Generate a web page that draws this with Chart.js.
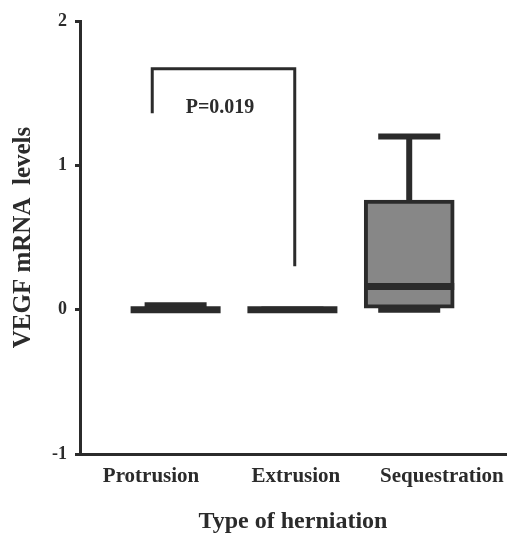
<!DOCTYPE html>
<html>
<head>
<meta charset="utf-8">
<script src="https://cdn.jsdelivr.net/npm/chart.js@4"></script>
<style>
  html, body { margin: 0; padding: 0; background: #fff; }
  #wrap { width: 507px; height: 536px; }
</style>
</head>
<body>
<div id="wrap"><canvas id="chart"></canvas></div>
<script>
// box plot values
const categories = ['Protrusion', 'Extrusion', 'Sequestration'];
const mins = [0, 0, 0];
const q1s = [0, 0, 0];
const medians = [0, 0, 0.16];
const q3s = [0, 0, 0.76];
const maxs = [0.03, 0, 1.2];
const yTicks = [-1, 0, 1, 2];
// where the category names sit under the axis (they are not centred on the boxes)
const labelPositions = [0.79, 2.03, 3.28];

// significance bracket between protrusion and extrusion
const bracketX = [0.8, 2.02];
const bracketTop = 1.67;
const bracketEnds = [1.36, 0.30];
const pLabel = 'P=0.019';
const pLabelPos = [1.38, 1.40];

const ink = '#2b2b2b';
const serif = "'Liberation Serif', 'Times New Roman', serif";

// whiskers, caps, medians and the p-value bracket
const boxExtras = {
    id: 'boxExtras',
    afterDatasetsDraw(chart) {
        const { ctx, scales: { x, y } } = chart;
        ctx.save();
        ctx.strokeStyle = ink;
        ctx.lineCap = 'butt';
        categories.forEach((c, i) => {
            const cx = x.getPixelForValue(i + 1);
            const capHalf = 31;
            // upper whisker
            ctx.lineWidth = 6;
            ctx.beginPath();
            ctx.moveTo(cx, y.getPixelForValue(q3s[i]));
            ctx.lineTo(cx, y.getPixelForValue(maxs[i]));
            ctx.stroke();
            // caps
            [mins[i], maxs[i]].forEach(v => {
                ctx.beginPath();
                ctx.moveTo(cx - capHalf, y.getPixelForValue(v));
                ctx.lineTo(cx + capHalf, y.getPixelForValue(v));
                ctx.stroke();
            });
            // median
            ctx.lineWidth = 7;
            ctx.beginPath();
            ctx.moveTo(cx - 45, y.getPixelForValue(medians[i]));
            ctx.lineTo(cx + 45, y.getPixelForValue(medians[i]));
            ctx.stroke();
        });

        // bracket
        ctx.lineWidth = 3;
        ctx.beginPath();
        ctx.moveTo(x.getPixelForValue(bracketX[0]), y.getPixelForValue(bracketEnds[0]));
        ctx.lineTo(x.getPixelForValue(bracketX[0]), y.getPixelForValue(bracketTop));
        ctx.lineTo(x.getPixelForValue(bracketX[1]), y.getPixelForValue(bracketTop));
        ctx.lineTo(x.getPixelForValue(bracketX[1]), y.getPixelForValue(bracketEnds[1]));
        ctx.stroke();

        ctx.fillStyle = ink;
        ctx.font = 'bold 20px ' + serif;
        ctx.textAlign = 'center';
        ctx.textBaseline = 'middle';
        ctx.fillText(pLabel, x.getPixelForValue(pLabelPos[0]), y.getPixelForValue(pLabelPos[1]));
        ctx.restore();
    }
};

new Chart(document.getElementById('chart'), {
    type: 'bar',
    data: {
        datasets: [{
            data: categories.map((c, i) => ({ x: i + 1, y: [q1s[i], q3s[i]] })),
            backgroundColor: '#878787',
            borderColor: ink,
            borderWidth: 4,
            borderSkipped: false,
            barThickness: 90
        }]
    },
    options: {
        responsive: true,
        maintainAspectRatio: false,
        animation: false,
        layout: { padding: { top: 21, right: 2, left: 0, bottom: 0 } },
        plugins: {
            legend: { display: false },
            tooltip: { enabled: false }
        },
        scales: {
            x: {
                type: 'linear',
                min: 0.19,
                max: 3.82,
                offset: false,
                afterBuildTicks: axis => { axis.ticks = categories.map((c, i) => ({ value: i + 1 })); },
                grid: { display: true, offset: false, drawOnChartArea: false, drawTicks: true, tickLength: 2, lineWidth: 3, color: ink },
                border: { display: true, width: 3, color: ink },
                ticks: { display: false }
            },
            x2: {
                type: 'linear',
                position: 'bottom',
                weight: 1,
                min: 0.19,
                max: 3.82,
                offset: false,
                afterBuildTicks: axis => { axis.ticks = labelPositions.map(v => ({ value: v })); },
                grid: { display: false },
                border: { display: false },
                ticks: {
                    padding: 0,
                    color: ink,
                    font: { family: serif, size: 21, weight: 'bold' },
                    maxRotation: 0,
                    autoSkip: false,
                    callback: (v, idx) => categories[idx]
                },
                title: {
                    display: true,
                    text: 'Type of herniation',
                    color: ink,
                    font: { family: serif, size: 24, weight: 'bold' },
                    padding: { top: 18, bottom: 0 }
                }
            },
            y: {
                min: -1,
                max: 2,
                afterBuildTicks: axis => { axis.ticks = yTicks.map(v => ({ value: v })); },
                grid: { display: true, drawOnChartArea: false, drawTicks: true, tickLength: 6, lineWidth: 3, color: ink },
                border: { display: true, width: 3, color: ink },
                ticks: {
                    padding: 8,
                    color: ink,
                    font: { family: serif, size: 18, weight: 'bold' }
                },
                title: {
                    display: true,
                    text: 'VEGF mRNA  levels',
                    color: ink,
                    font: { family: serif, size: 25, weight: 'bold' },
                    padding: { top: 9, bottom: 5 }
                }
            }
        }
    },
    plugins: [boxExtras]
});
</script>
</body>
</html>
